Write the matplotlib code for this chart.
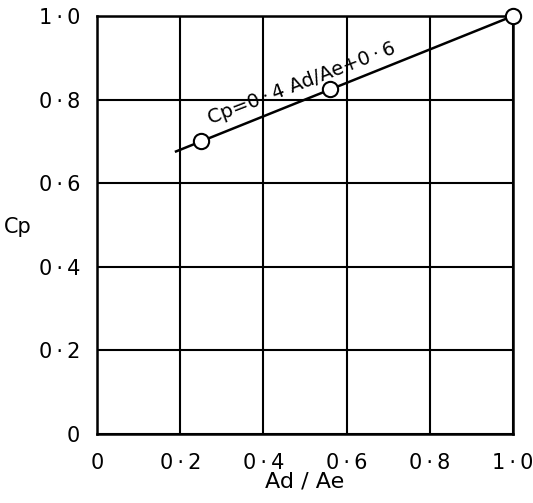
import numpy as np
from matplotlib import pyplot as plt

# measured points (Ad/Ae, Cp)
ad_ae = [0.25, 0.56, 1.0]
cp = [0.70, 0.825, 1.0]

# fitted line Cp = 0.4 Ad/Ae + 0.6
fit_x = [0.19, 1.0]
slope, intercept = 0.4, 0.6

ticks = [0, 0.2, 0.4, 0.6, 0.8, 1.0]
tick_labels = ["0", "0\u2009·\u20092", "0\u2009·\u20094", "0\u2009·\u20096",
               "0\u2009·\u20098", "1\u2009·\u20090"]

plt.rcParams['font.family'] = ['DejaVu Sans']

fig = plt.figure(figsize=(5.33, 5.03), dpi=100)
ax = fig.add_axes([97 / 533, 69 / 503, 416 / 533, 418 / 503])

fx = np.array(fit_x)
ax.plot(fx, slope * fx + intercept, color="black", lw=1.8, zorder=3)
ax.plot(ad_ae, cp, "o", mfc="white", mec="black", ms=11, mew=1.5,
        zorder=4, clip_on=False)

ax.set_xlim(0, 1)
ax.set_ylim(0, 1)
ax.set_xticks(ticks)
ax.set_yticks(ticks)
ax.set_xticklabels(tick_labels)
ax.set_yticklabels(tick_labels)
ax.tick_params(length=0, labelsize=15, colors="black")
ax.tick_params(axis="x", pad=14)
ax.tick_params(axis="y", pad=12)

ax.grid(True, color="black", lw=1.5)
for s in ax.spines.values():
    s.set_linewidth(1.8)

ax.set_xlabel("Ad / Ae", fontsize=16)
ax.xaxis.set_label_coords(0.5, -0.09)
ax.set_ylabel("Cp", fontsize=15, rotation=0, ha="center", va="center")
ax.yaxis.set_label_coords(-0.19, 0.495)

ax.text(0.274, 0.742, "Cp=0\u2009·\u20094 Ad/Ae+0\u2009·\u20096", fontsize=14,
        rotation=21, rotation_mode="anchor", ha="left", va="baseline",
        zorder=5)

fig.savefig("out.png", dpi=100)
